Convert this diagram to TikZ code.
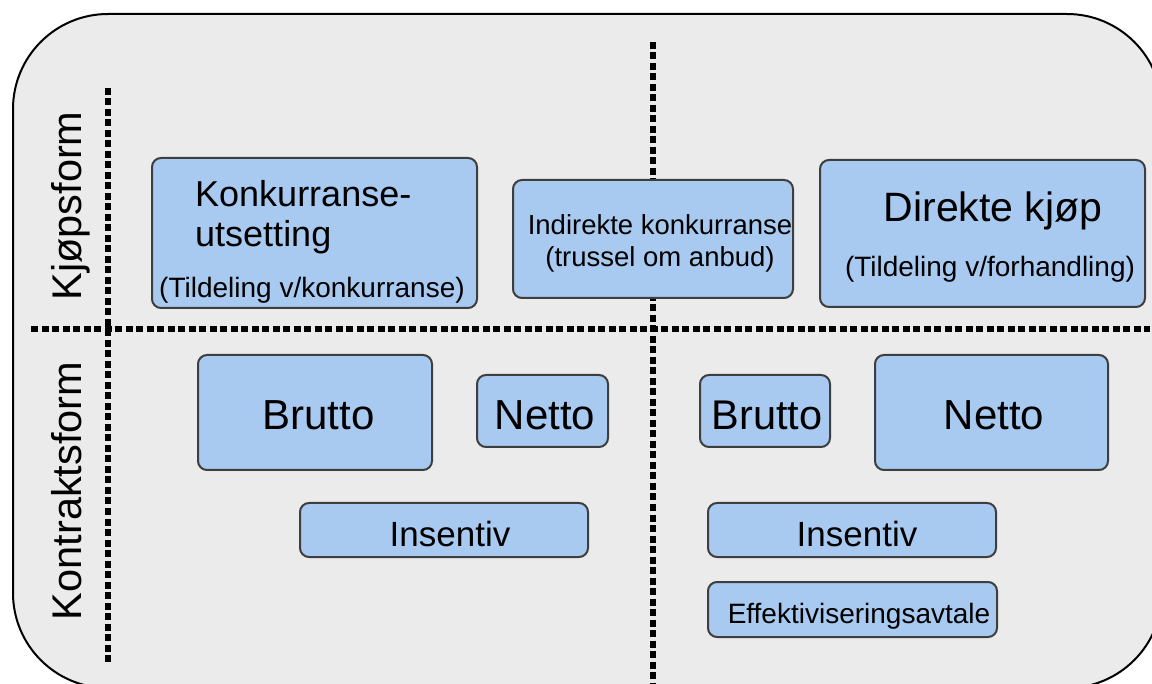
\documentclass[tikz,border=0pt]{standalone}
\usepackage{fontspec}
\setmainfont{Liberation Sans}
\definecolor{boxfill}{RGB}{168,201,240}
\definecolor{boxline}{RGB}{62,62,62}
\definecolor{bgfill}{RGB}{235,235,235}
\begin{document}
\begin{tikzpicture}[x=1pt,y=-1pt,
  box/.style={draw=boxline, line width=2pt, fill=boxfill, rounded corners=9pt, inner sep=0pt},
  lbl/.style={inner sep=0pt, anchor=base, text=black},
  axis/.style={line width=5.5pt, dash pattern=on 7pt off 3.5pt, black},
  fs/.style={font=\fontsize{#1}{#1}\selectfont}]
\useasboundingbox (0,0) rectangle (1152,684);
\fill[white] (0,0) rectangle (1152,684);
% outer panel
\draw[line width=2pt, fill=bgfill, rounded corners=95pt] (13,14) rectangle (1162,688);
% axes
\coordinate (vtop) at (108,88);
\coordinate (vbot) at (108,662);
\coordinate (hl) at (31,329);
\coordinate (hr) at (1150,329);
\coordinate (ctop) at (653,42);
\coordinate (cbot) at (653,690);
\draw[axis] (vtop) -- (vbot);
\draw[axis] (hl) -- (hr);
\draw[axis] (ctop) -- (cbot);
% side labels
\node[lbl, rotate=90, fs=41.5] (kjop) at (81,206) {Kjøpsform};
\node[lbl, rotate=90, fs=41.5] (kontr) at (81,491) {Kontraktsform};
% boxes
\node[box, minimum width=325pt, minimum height=150pt] (b1) at (314.5,233) {};
\node[box, minimum width=280pt, minimum height=118pt] (b2) at (653,239) {};
\node[box, minimum width=325pt, minimum height=147pt] (b3) at (982.5,233.5) {};
\node[box, minimum width=234pt, minimum height=115pt] (b4) at (315,412.5) {};
\node[box, minimum width=131pt, minimum height=72pt] (b5) at (542.5,411) {};
\node[box, minimum width=130pt, minimum height=72pt] (b6) at (765,411) {};
\node[box, minimum width=233pt, minimum height=115pt] (b7) at (991.5,412.5) {};
\node[box, minimum width=288pt, minimum height=54pt] (b8) at (444,530) {};
\node[box, minimum width=288pt, minimum height=54pt] (b9) at (852,530) {};
\node[box, minimum width=289pt, minimum height=55pt] (b10) at (852.5,609.5) {};
% texts
\node[lbl, anchor=base west, fs=36] (t1a) at (195,207) {Konkurranse-};
\node[lbl, anchor=base west, fs=36] (t1b) at (195,247) {utsetting};
\node[lbl, fs=28] (t1c) at (312,298) {(Tildeling v/konkurranse)};
\node[lbl, fs=27.5] (t2a) at (660,235) {Indirekte konkurranse};
\node[lbl, fs=27.5] (t2b) at (660,267) {(trussel om anbud)};
\node[lbl, fs=41] (t3a) at (993,222) {Direkte kjøp};
\node[lbl, fs=28] (t3b) at (990,277) {(Tildeling v/forhandling)};
\node[lbl, fs=42] (t4) at (318.5,430) {Brutto};
\node[lbl, fs=42] (t5) at (545,430) {Netto};
\node[lbl, fs=41.5] (t6) at (767,430) {Brutto};
\node[lbl, fs=42] (t7) at (994,430) {Netto};
\node[lbl, fs=35] (t8) at (450,547) {Insentiv};
\node[lbl, fs=35] (t9) at (857,547) {Insentiv};
\node[lbl, fs=28] (t10) at (859,623) {Effektiviseringsavtale};
\end{tikzpicture}
\end{document}
